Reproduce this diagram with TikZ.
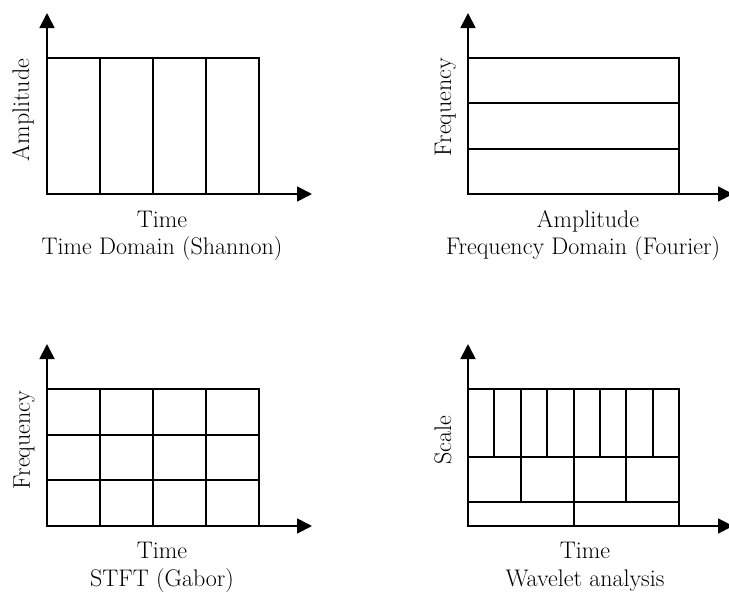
\documentclass[tikz,border=0pt]{standalone}
\usepackage{fontspec}
\usetikzlibrary{arrows.meta}

\tikzset{
  axisline/.style={line width=1.8pt, line join=miter,
    {Triangle[width=15pt,length=15pt]}-{Triangle[width=15pt,length=15pt]}},
  cell/.style={line width=1.8pt, line join=miter},
  lab/.style={font=\fontsize{24}{29}\selectfont, inner sep=0pt, anchor=base},
  vlab/.style={lab, rotate=90}
}

\begin{document}
\begin{tikzpicture}[x=1pt, y=-1pt]
  \useasboundingbox (0,0) rectangle (729,592);

  % ---------- Time domain (Shannon) ----------
  \coordinate (ta-o) at (47,194);
  \coordinate (ta-y) at (47,13);
  \coordinate (ta-x) at (312,194);
  \draw[cell] (47,58) rectangle (259,194);
  \foreach \x in {100,153,206} \draw[cell] (\x,58) -- (\x,194);
  \draw[axisline] (ta-y) -- (ta-o) -- (ta-x);
  \node[vlab] (ta-ylab) at (29,110) {Amplitude};
  \node[lab] (ta-xlab) at (162,227) {Time};
  \node[lab] (ta-title) at (162,254) {Time Domain (Shannon)};

  % ---------- Frequency domain (Fourier) ----------
  \coordinate (fd-o) at (468,194);
  \coordinate (fd-y) at (468,13);
  \coordinate (fd-x) at (733,194);
  \draw[cell] (468,58) rectangle (679,194);
  \foreach \y in {103,149} \draw[cell] (468,\y) -- (679,\y);
  \draw[axisline] (fd-y) -- (fd-o) -- (fd-x);
  \node[vlab] (fd-ylab) at (451,107) {Frequency};
  \node[lab] (fd-xlab) at (588,227) {Amplitude};
  \node[lab] (fd-title) at (583,254) {Frequency Domain (Fourier)};

  % ---------- STFT (Gabor) ----------
  \coordinate (st-o) at (47,526);
  \coordinate (st-y) at (47,344);
  \coordinate (st-x) at (312,526);
  \draw[cell] (47,389) rectangle (259,526);
  \foreach \x in {100,153,206} \draw[cell] (\x,389) -- (\x,526);
  \foreach \y in {435,480} \draw[cell] (47,\y) -- (259,\y);
  \draw[axisline] (st-y) -- (st-o) -- (st-x);
  \node[vlab] (st-ylab) at (30,440) {Frequency};
  \node[lab] (st-xlab) at (162,558) {Time};
  \node[lab] (st-title) at (162,586) {STFT (Gabor)};

  % ---------- Wavelet analysis ----------
  \coordinate (wv-o) at (468,526);
  \coordinate (wv-y) at (468,344);
  \coordinate (wv-x) at (733,526);
  \draw[cell] (468,389) rectangle (679,526);
  \draw[cell] (468,457) -- (679,457);
  \draw[cell] (468,502) -- (679,502);
  % finest scale: eight columns
  \foreach \x in {494,521,547,574,600,626,653} \draw[cell] (\x,389) -- (\x,457);
  % middle scale: four columns
  \foreach \x in {521,574,626} \draw[cell] (\x,457) -- (\x,502);
  % coarsest scale: two columns
  \draw[cell] (574,502) -- (574,526);
  \draw[axisline] (wv-y) -- (wv-o) -- (wv-x);
  \node[vlab] (wv-ylab) at (451,440) {Scale};
  \node[lab] (wv-xlab) at (585,558) {Time};
  \node[lab] (wv-title) at (585,586) {Wavelet analysis};
\end{tikzpicture}
\end{document}
